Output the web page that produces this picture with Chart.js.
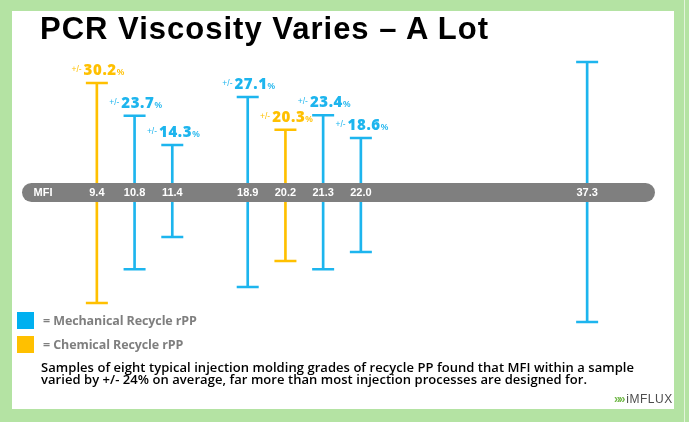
<!DOCTYPE html>
<html>
<head>
<meta charset="utf-8">
<title>PCR Viscosity Varies</title>
<script src="https://cdn.jsdelivr.net/npm/chart.js@4.4.1/dist/chart.umd.min.js"></script>
<style>
  html, body { margin: 0; padding: 0; }
  body {
    width: 689px; height: 422px; position: relative; overflow: hidden;
    background: #b4e3a3;
    font-family: "Liberation Sans", Arial, sans-serif;
  }
  #panel { position: absolute; left: 12px; top: 11px; width: 662px; height: 398px; background: #fff; }
  #edge { position: absolute; left: 684px; top: 0; width: 1px; height: 422px; background: #e4f4dc; }
  #chart { position: absolute; left: 0; top: 0; }
  #title {
    position: absolute; left: 40px; top: 13px; white-space: nowrap;
    font: bold 31px "Liberation Sans", Arial, sans-serif; line-height: 31px; color: #000;
    letter-spacing: 1px;
  }
  .legend {
    position: absolute; left: 17px; height: 17px; line-height: 17px; white-space: nowrap;
    font: bold 12.5px "Open Sans", sans-serif; color: #7f7f7f; letter-spacing: -0.1px;
  }
  .legend i { display: inline-block; width: 17px; height: 17px; vertical-align: top; margin-right: 9px; }
  #note {
    position: absolute; left: 41px; top: 361px; white-space: nowrap;
    font: 600 13px "Open Sans", sans-serif; line-height: 12px; color: #000; letter-spacing: 0.05px;
  }
  #logo {
    position: absolute; left: 614px; top: 393px; white-space: nowrap;
    font: 12px "Liberation Sans", Arial, sans-serif; line-height: 13px; color: #4d4d4d; letter-spacing: 0.5px;
  }
  #logo b { color: #72b84a; letter-spacing: -2px; margin-right: 3px; }
</style>
</head>
<body>
<div id="panel"></div>
<div id="edge"></div>
<canvas id="chart" width="689" height="422"></canvas>
<div id="title">PCR Viscosity Varies – A Lot</div>
<div class="legend" style="top:312px"><i style="background:#00b0f0"></i>= Mechanical Recycle rPP</div>
<div class="legend" style="top:336px"><i style="background:#ffc000"></i>= Chemical Recycle rPP</div>
<div id="note">Samples of eight typical injection molding grades of recycle PP found that MFI within a sample<br>varied by +/- 24% on average, far more than most injection processes are designed for.</div>
<div id="logo"><b>&raquo;&raquo;</b>iMFLUX</div>
<script>
// slots along the MFI band (blank ones are just spacing)
const axisLabels = ['9.4', '10.8', '11.4', '', '18.9', '20.2', '21.3', '22.0', '', '', '', '', '', '37.3'];

// one entry per sample
const sampleMfi = ['9.4', '10.8', '11.4', '18.9', '20.2', '21.3', '22.0', '37.3'];
const recycleType = ['chem', 'mech', 'mech', 'mech', 'chem', 'mech', 'mech', 'mech'];
const spreadText = ['30.2', '23.7', '14.3', '27.1', '20.3', '23.4', '18.6', null];
// drawn extent of each bar, % above / below nominal
const rangeHigh = [31.3, 21.9, 13.6, 27.3, 17.9, 22.1, 15.6, 37.3];
const rangeLow = [-31.6, -21.9, -12.7, -27.0, -19.6, -21.9, -17.0, -37.0];

const typeColors = { mech: '#1db5ee', chem: '#ffc000' };
const pointColors = recycleType.map(t => typeColors[t]);

const FONT = '"Liberation Sans", Arial, sans-serif';
const NUM_FONT = '800 15px "Open Sans", ' + FONT;

// Gray MFI band with its tick labels, plus the +/- labels above each bar
const mfiBand = {
    id: 'mfiBand',
    afterDatasetsDraw(chart) {
        const ctx = chart.ctx;
        const xs = chart.scales.x;
        const y0 = chart.scales.y.getPixelForValue(0);
        ctx.save();
        ctx.fillStyle = '#7f7f7f';
        ctx.beginPath();
        ctx.roundRect(22, y0 - 9.5, 633, 19, 9.5);
        ctx.fill();

        ctx.fillStyle = '#fff';
        ctx.font = 'bold 11px ' + FONT;
        ctx.textAlign = 'center';
        ctx.textBaseline = 'middle';
        ctx.fillText('MFI', 43, y0);
        xs.ticks.forEach((t, i) => {
            const lbl = xs.getLabelForValue(t.value);
            if (lbl) ctx.fillText(lbl, xs.getPixelForTick(i), y0);
        });

        const bars = chart.getDatasetMeta(0).data;
        bars.forEach((bar, i) => {
            if (!spreadText[i]) return;
            const top = Math.min(bar.y, bar.base);
            const base = top - 8;
            ctx.fillStyle = pointColors[i];
            ctx.textAlign = 'left';
            ctx.textBaseline = 'alphabetic';

            ctx.letterSpacing = '0px';
            ctx.font = '8.5px ' + FONT;
            const wPm = ctx.measureText('+/-').width;
            ctx.font = 'bold 8.5px ' + FONT;
            const wPct = ctx.measureText('%').width;
            ctx.font = NUM_FONT;
            ctx.letterSpacing = '0.6px';
            const wNum = ctx.measureText(spreadText[i]).width;

            let x = bar.x - (wPm + 2 + wNum + wPct) / 2 + 1;
            ctx.letterSpacing = '0px';
            ctx.font = '8.5px ' + FONT;
            ctx.fillText('+/-', x, base - 3);
            x += wPm + 2;
            ctx.letterSpacing = '0.6px';
            ctx.font = NUM_FONT;
            ctx.fillText(spreadText[i], x, base);
            x += wNum;
            ctx.letterSpacing = '0px';
            ctx.font = 'bold 8.5px ' + FONT;
            ctx.fillText('%', x, base);
        });
        ctx.restore();
    }
};

const capStyle = {
    type: 'line',
    showLine: false,
    pointStyle: 'line',
    pointRadius: 11,
    pointHoverRadius: 11,
    pointBorderWidth: 2.5,
    pointHoverBorderWidth: 2.5,
    pointBorderColor: pointColors,
    pointBackgroundColor: pointColors
};

new Chart(document.getElementById('chart'), {
    type: 'bar',
    data: {
        labels: axisLabels,
        datasets: [
            {
                label: 'MFI range',
                data: sampleMfi.map((m, i) => ({ x: m, y: [rangeLow[i], rangeHigh[i]] })),
                backgroundColor: pointColors,
                barThickness: 2,
                grouped: false
            },
            Object.assign({ label: 'High', data: sampleMfi.map((m, i) => ({ x: m, y: rangeHigh[i] })) }, capStyle),
            Object.assign({ label: 'Low', data: sampleMfi.map((m, i) => ({ x: m, y: rangeLow[i] })) }, capStyle)
        ]
    },
    options: {
        responsive: false,
        animation: false,
        layout: { padding: { left: 78, right: 83, top: 17.5, bottom: 54.5 } },
        plugins: { legend: { display: false }, tooltip: { enabled: false } },
        scales: {
            x: {
                type: 'category',
                offset: true,
                position: { y: 0 },
                grid: { display: false, drawTicks: false },
                border: { display: false },
                ticks: { display: false, autoSkip: false, maxRotation: 0 }
            },
            y: { display: false, min: -50, max: 50 }
        }
    },
    plugins: [mfiBand]
});
</script>
</body>
</html>
